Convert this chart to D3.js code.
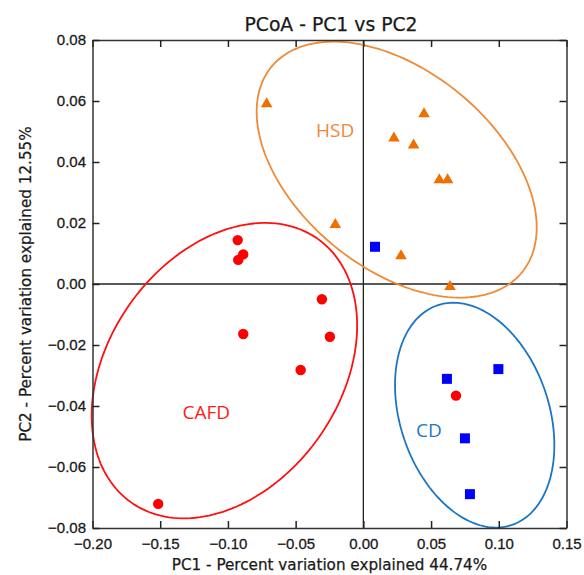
<!DOCTYPE html>
<meta charset="utf-8">
<style>
body { margin: 0; background: #fff; }
svg { font-family: "DejaVu Sans", sans-serif; }
.tick text { fill: #1a1a1a; stroke: #1a1a1a; stroke-width: 0.3px; }
.lbl { fill: #1a1a1a; stroke: #1a1a1a; stroke-width: 0.25px; }
</style>
<body>
<svg id="chart" width="584" height="575"></svg>
</body>
<script src="https://d3js.org/d3.v7.min.js"></script>
<script>
// sample coordinates, [PC1, PC2]
var hsdPoints = [[-0.0714, 0.0593], [0.0448, 0.0560], [0.0226, 0.0481], [0.0371, 0.0458],
  [0.0561, 0.0344], [0.0622, 0.0344], [-0.0207, 0.0197], [0.0278, 0.0095], [0.0640, -0.0006]];
var cdPoints = [[0.0086, 0.0122], [0.0617, -0.0311], [0.0997, -0.0279], [0.0750, -0.0506], [0.0787, -0.0689]];
var cafdPoints = [[-0.0928, 0.0144], [-0.0887, 0.0097], [-0.0924, 0.0079], [-0.0306, -0.0050],
  [-0.0247, -0.0173], [-0.0463, -0.0282], [0.0684, -0.0366], [-0.0887, -0.0164], [-0.1515, -0.0721]];

// group ellipses: centre, major and minor semi-axis vectors (data units)
var hsdEllipse = {c: [0.0246, 0.0375], u: [0.0925, -0.0337], v: [-0.0462, -0.0250]};
var cafdEllipse = {c: [-0.1026, -0.0284], u: [0.0689, 0.0432], v: [0.0697, -0.0219]};
var cdEllipse = {c: [0.0822, -0.0430], u: [0.0275, -0.0360], v: [-0.0520, -0.0079]};

var groupLabels = [
  {text: "HSD", at: [-0.0350, 0.0482], color: "#f0873a"},
  {text: "CAFD", at: [-0.1335, -0.0443], color: "#ff1a1a"},
  {text: "CD", at: [0.0389, -0.0503], color: "#1f78c4"}
];

var xTicks = [-0.20, -0.15, -0.10, -0.05, 0.00, 0.05, 0.10, 0.15];
var yTicks = [-0.08, -0.06, -0.04, -0.02, 0.00, 0.02, 0.04, 0.06, 0.08];

var svg = d3.select("#chart");
var margin = {left: 92.5, right: 17.5, top: 40, bottom: 47};
var W = 584, H = 575;

var x = d3.scaleLinear().domain([-0.20, 0.15]).range([margin.left, W - margin.right]);
var y = d3.scaleLinear().domain([-0.08, 0.08]).range([H - margin.bottom, margin.top]);

function fmt(d) { return d3.format(".2f")(d).replace("-", "\u2212"); }

// zero lines
svg.append("line").attr("x1", x(-0.20)).attr("x2", x(0.15)).attr("y1", y(0)).attr("y2", y(0))
  .attr("stroke", "#222").attr("stroke-width", 1.3);
svg.append("line").attr("x1", x(0)).attr("x2", x(0)).attr("y1", y(0.08)).attr("y2", y(-0.08))
  .attr("stroke", "#222").attr("stroke-width", 1.3);

// ellipses
var line = d3.line().x(function (d) { return x(d[0]); }).y(function (d) { return y(d[1]); });
function ellipsePts(e) {
  return d3.range(0, 361, 2).map(function (deg) {
    var t = deg * Math.PI / 180;
    return [e.c[0] + e.u[0] * Math.cos(t) + e.v[0] * Math.sin(t),
            e.c[1] + e.u[1] * Math.cos(t) + e.v[1] * Math.sin(t)];
  });
}
[[hsdEllipse, "#f08a35"], [cafdEllipse, "#ff1010"], [cdEllipse, "#1a76c4"]].forEach(function (p) {
  svg.append("path").attr("d", line(ellipsePts(p[0]))).attr("fill", "none")
    .attr("stroke", p[1]).attr("stroke-width", 1.8);
});

// markers
svg.selectAll(".cafd").data(cafdPoints).enter().append("circle")
  .attr("cx", function (d) { return x(d[0]); }).attr("cy", function (d) { return y(d[1]); })
  .attr("r", 5.2).attr("fill", "#ff0000");
svg.selectAll(".cd").data(cdPoints).enter().append("rect")
  .attr("x", function (d) { return x(d[0]) - 5; }).attr("y", function (d) { return y(d[1]) - 5; })
  .attr("width", 10).attr("height", 10).attr("fill", "#0000ff");
var tri = d3.symbol().type(d3.symbolTriangle).size(58);
svg.selectAll(".hsd").data(hsdPoints).enter().append("path")
  .attr("d", tri)
  .attr("transform", function (d) { return "translate(" + x(d[0]) + "," + (y(d[1]) + 0.8) + ")"; })
  .attr("fill", "#ef6f00");

// group labels
svg.selectAll(".glabel").data(groupLabels).enter().append("text")
  .attr("x", function (d) { return x(d.at[0]); }).attr("y", function (d) { return y(d.at[1]); })
  .attr("fill", function (d) { return d.color; })
  .style("font-family", "'Open Sans', sans-serif")
  .style("font-size", "19px").text(function (d) { return d.text; });

// frame + ticks (ticks inside, on all four sides)
var axes = [
  [d3.axisBottom(x).tickValues(xTicks).tickFormat(fmt), "translate(0," + y(-0.08) + ")", 10],
  [d3.axisTop(x).tickValues(xTicks).tickFormat(""), "translate(0," + y(0.08) + ")", 3],
  [d3.axisLeft(y).tickValues(yTicks).tickFormat(fmt), "translate(" + x(-0.20) + ",0)", 6.5],
  [d3.axisRight(y).tickValues(yTicks).tickFormat(""), "translate(" + x(0.15) + ",0)", 3]
];
axes.forEach(function (a) {
  var g = svg.append("g").attr("transform", a[1])
    .call(a[0].tickSizeInner(-7).tickSizeOuter(0).tickPadding(a[2]));
  g.select(".domain").attr("stroke", "#333").attr("stroke-width", 1.5);
  g.selectAll(".tick line").attr("stroke", "#222").attr("stroke-width", 1.5);
  g.selectAll(".tick text").style("font-size", "15px");
});

// titles
svg.append("text").attr("class", "lbl").attr("x", 331).attr("y", 31).attr("text-anchor", "middle")
  .style("font-size", "18.8px").text("PCoA - PC1 vs PC2");
svg.append("text").attr("class", "lbl").attr("x", x(-0.025)).attr("y", 570).attr("text-anchor", "middle")
  .style("font-size", "15.2px").text("PC1 - Percent variation explained 44.74%");
svg.append("text").attr("class", "lbl").attr("transform", "translate(31," + y(0) + ") rotate(-90)")
  .attr("text-anchor", "middle")
  .style("font-size", "15.2px").text("PC2 - Percent variation explained 12.55%");
</script>
